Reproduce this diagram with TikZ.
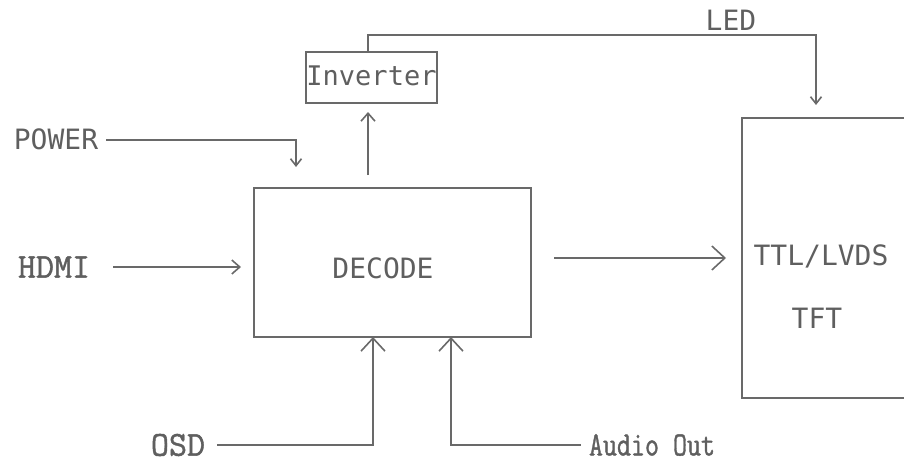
\documentclass[tikz,border=0pt]{standalone}
\usepackage{fontspec}
\newfontfamily\pixfont{DejaVu Sans Mono}
\newfontfamily\serfont[FakeBold=1.2]{Latin Modern Mono}
\usetikzlibrary{arrows.meta,calc}
\definecolor{ln}{RGB}{105,105,105}
\definecolor{tx}{RGB}{95,95,95}
\begin{document}
\begin{tikzpicture}[x=1pt,y=-1pt,
  box/.style={draw=ln,line width=1.6pt,inner sep=0pt,outer sep=0pt},
  pix/.style={text=tx,inner sep=0pt,font=\pixfont\fontsize{28}{28}\selectfont},
  ser/.style={text=tx,inner sep=0pt,font=\serfont\fontsize{35}{35}\selectfont},
  wire/.style={draw=ln,line width=1.6pt},
  arrA/.style={wire,-{Straight Barb[length=13pt,width=24pt,line width=1.6pt]}},
  arrB/.style={wire,-{Straight Barb[length=8pt,width=14pt,line width=1.6pt]}},
  arrC/.style={wire,-{Straight Barb[length=7pt,width=11pt,line width=1.6pt]}}]
\useasboundingbox (0,0) rectangle (904,463);
\clip (0,0) rectangle (904,463);
% boxes
\node[box,minimum width=277pt,minimum height=149pt] (decode) at (392.5,262.5) {};
\node[box,minimum width=131pt,minimum height=51pt] (inverter) at (371.5,77.5) {};
\node[box,minimum width=170pt,minimum height=280pt] (tft) at (827,258) {};
% texts
\node[pix] (decodetxt) at (383,268) {DECODE};
\node[pix,font=\pixfont\fontsize{27}{27}\selectfont] (invtxt) at (371.5,76) {Inverter};
\node[pix] (ttl) at (821,256) {TTL/LVDS};
\node[pix] (tfttxt) at (817,318) {TFT};
\node[pix] (led) at (731,20) {LED};
\node[pix] (power) at (56,139) {POWER};
\node[ser] (hdmi) at (54,267) {HDMI};
\node[ser] (osd) at (178,445) {OSD};
\node[ser,font=\serfont\fontsize{34}{34}\selectfont] (audio) at (652,445) {\scalebox{0.8}[1]{Audio Out}};
% connectors
\coordinate (powerend) at (296,167);
\draw[arrC] ([xshift=8pt,yshift=-1pt]power.east) -| (powerend);
\draw[arrB] ([xshift=23pt]hdmi.east) -- ([xshift=-13pt]decode.west |- hdmi.east);
\draw[arrB] ($(decode.north)+(-24.5,-13)$) -- ($(inverter.south)+(-3.5,9)$);
\coordinate (ledend) at (816,105);
\draw[arrC] ($(inverter.north)+(-3.5,0)$) -- ++(0,-17) -| (ledend);
\draw[arrA] ($(decode.east |- tft.west)+(23,0)$) -- ($(tft.west)+(-16,0)$);
\draw[arrA] ([xshift=12pt]osd.east) -| ($(decode.south)+(-19.5,0)$);
\draw[arrA] ([xshift=-8pt]audio.west) -| ($(decode.south)+(58.5,0)$);
\end{tikzpicture}
\end{document}
